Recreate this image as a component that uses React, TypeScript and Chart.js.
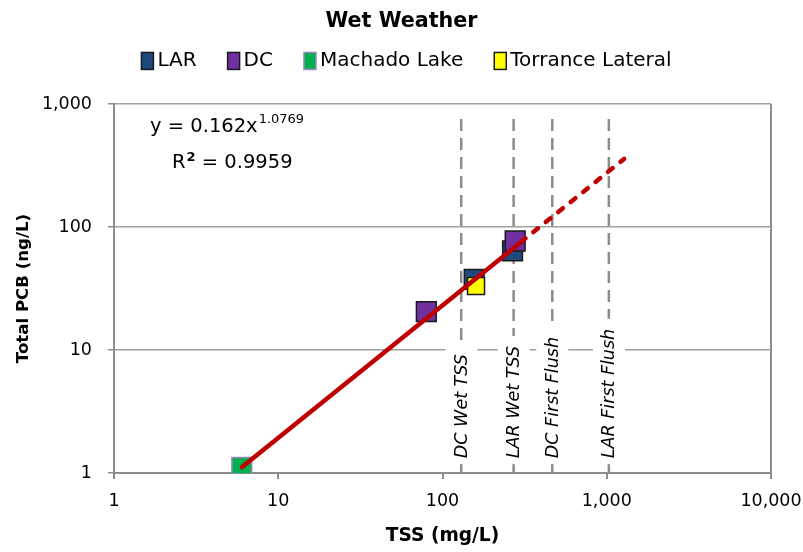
import React, { useEffect, useRef } from 'react';
import { Chart, registerables, layouts } from 'chart.js';

Chart.register(...registerables);

const FONT = '"DejaVu Sans", "Open Sans", sans-serif';

// Axis ticks (decades only)
const xTicks = [1, 10, 100, 1000, 10000];
const yTicks = [1, 10, 100, 1000];

// Wet weather samples: TSS (mg/L) vs total PCB (ng/L)
const seriesNames = ['LAR', 'DC', 'Machado Lake', 'Torrance Lateral'];
const larTss = [156, 267];
const larPcb = [37.5, 64];
const dcTss = [79.7, 277];
const dcPcb = [20.5, 77];
const machadoTss = [6.0];
const machadoPcb = [1.11];
const torranceTss = [160];
const torrancePcb = [33.2];

// Power-law fit y = a * x^b
const fitCoef = 0.162;
const fitExp = 1.0769;
const fitR2 = '0.9959';
const fitSolidRange = [6, 300];
const fitDashedRange = [300, 1275];

// Reference TSS levels
const refLabels = ['DC Wet TSS', 'LAR Wet TSS', 'DC First Flush', 'LAR First Flush'];
const refTss = [130, 271, 466, 1030];
const refPcbRange = [1, 850];
const refLabelPcb = 1.32;

const powerFit = (x: number) => fitCoef * Math.pow(x, fitExp);
const fmt = (v: number) => Number(v).toLocaleString('en-US');
const pts = (xs: number[], ys: number[]) => xs.map((x, i) => ({ x, y: ys[i] }));

const AXIS_GRAY = '#8C8C8C';
const LEGEND_HEIGHT = 69.6;
const PLOT_RIGHT_GAP = 32;

// Legend row drawn as its own layout box between the title and the plot
const sampleLegend = {
  id: 'sampleLegend',
  beforeInit(chart: any) {
    const box: any = {
      position: 'top',
      weight: 0,
      fullSize: true,
      options: {},
      top: 0, left: 0, right: 0, bottom: 0, width: 0, height: 0,
      isHorizontal: () => true,
      getPadding: () => ({ top: 0, left: 0, right: 0, bottom: 0 }),
      update(maxWidth: number) {
        this.width = maxWidth;
        this.height = LEGEND_HEIGHT;
      },
      draw() {
        const ctx = chart.ctx;
        const sets = chart.data.datasets.filter((d: any) => seriesNames.includes(d.label));
        const boxW = 12;
        const boxH = 17;
        const textGap = 4;
        const itemGap = 31;
        ctx.save();
        ctx.font = `20px ${FONT}`;
        const widths = sets.map((d: any) => ctx.measureText(d.label).width);
        const total = widths.reduce((a: number, w: number) => a + boxW + textGap + w, 0) + itemGap * (sets.length - 1);
        let x = chart.width / 2 + 5 - total / 2;
        const cy = this.top + 26.5;
        sets.forEach((d: any, i: number) => {
          ctx.fillStyle = d.backgroundColor;
          ctx.fillRect(x, cy - boxH / 2, boxW, boxH);
          ctx.strokeStyle = d.borderColor;
          ctx.lineWidth = 1.5;
          ctx.strokeRect(x, cy - boxH / 2, boxW, boxH);
          ctx.fillStyle = '#000000';
          ctx.textAlign = 'left';
          ctx.textBaseline = 'middle';
          ctx.fillText(d.label, x + boxW + textGap, cy);
          x += boxW + textGap + widths[i] + itemGap;
        });
        ctx.restore();
      },
    };
    layouts.addBox(chart, box);
  },
};

const annotations = {
  id: 'refAnnotations',
  afterDatasetsDraw(chart: any) {
    const { ctx, scales, chartArea } = chart;
    const xs = scales.x;
    const ys = scales.y;
    ctx.save();
    ctx.font = `oblique 17.5px ${FONT}`;
    const baseY = ys.getPixelForValue(refLabelPcb);
    refTss.forEach((v, i) => {
      const px = xs.getPixelForValue(v);
      const w = ctx.measureText(refLabels[i]).width;
      ctx.fillStyle = '#ffffff';
      ctx.fillRect(px - 16, baseY - w - 10, 32, w + 16);
      ctx.save();
      ctx.translate(px, baseY);
      ctx.rotate(-Math.PI / 2);
      ctx.fillStyle = '#000000';
      ctx.textAlign = 'left';
      ctx.textBaseline = 'middle';
      ctx.fillText(refLabels[i], 0, 1);
      ctx.restore();
    });

    // Fit equation and R²
    const left = chartArea.left;
    const top = chartArea.top;
    ctx.fillStyle = '#000000';
    ctx.textAlign = 'left';
    ctx.textBaseline = 'alphabetic';
    ctx.font = `19.5px ${FONT}`;
    const eq = `y = ${fitCoef}x`;
    ctx.fillText(eq, left + 36, top + 28);
    const eqW = ctx.measureText(eq).width;
    ctx.font = `13px ${FONT}`;
    ctx.fillText(String(fitExp), left + 36 + eqW + 1, top + 19);

    ctx.font = `19.5px ${FONT}`;
    ctx.fillText('R', left + 58, top + 64);
    const rW = ctx.measureText('R').width;
    ctx.font = `bold 13px ${FONT}`;
    ctx.fillText('2', left + 58 + rW + 1, top + 57);
    const twoW = ctx.measureText('2').width;
    ctx.font = `19.5px ${FONT}`;
    ctx.fillText(` = ${fitR2}`, left + 58 + rW + twoW + 1, top + 64);
    ctx.restore();
  },
};

export default function App() {
  const ref = useRef<HTMLCanvasElement | null>(null);

  useEffect(() => {
    if (!ref.current) return;
    const marker = (label: string, xs: number[], ys: number[], fill: string, border: string, order: number, radius = 14) => ({
      type: 'scatter' as const,
      label,
      data: pts(xs, ys),
      backgroundColor: fill,
      borderColor: border,
      borderWidth: 1.5,
      pointStyle: 'rect',
      pointRadius: radius,
      pointHoverRadius: radius,
      order,
    });

    const fitLine = (range: number[], dash: number[]) => ({
      type: 'line' as const,
      label: 'fit',
      data: range.map((x) => ({ x, y: powerFit(x) })),
      showLine: true,
      borderColor: '#C00000',
      borderWidth: 4.5,
      borderDash: dash,
      borderCapStyle: 'round' as const,
      pointRadius: 0,
      fill: false,
      order: 0,
    });

    const refLines = refTss.map((v, i) => ({
      type: 'line' as const,
      label: refLabels[i],
      data: refPcbRange.map((y) => ({ x: v, y })),
      showLine: true,
      borderColor: AXIS_GRAY,
      borderWidth: 2.5,
      borderDash: [12, 7],
      pointRadius: 0,
      fill: false,
      order: 10,
    }));

    const chart = new Chart(ref.current, {
      type: 'scatter',
      data: {
        datasets: [
          marker(seriesNames[0], larTss, larPcb, '#1F497D', '#1A1A1A', 4),
          marker(seriesNames[1], dcTss, dcPcb, '#7030A0', '#1A1A1A', 3),
          marker(seriesNames[2], machadoTss, machadoPcb, '#00B050', '#9B87BE', 2),
          marker(seriesNames[3], torranceTss, torrancePcb, '#FFFF00', '#1A1A1A', 1, 12),
          fitLine(fitSolidRange, []),
          fitLine(fitDashedRange, [6, 10]),
          ...refLines,
        ] as any,
      },
      plugins: [sampleLegend, annotations],
      options: {
        animation: false,
        responsive: false,
        maintainAspectRatio: false,
        layout: { padding: 0 },
        plugins: {
          tooltip: { enabled: false },
          legend: { display: false },
          title: {
            display: true,
            text: 'Wet Weather',
            color: '#000000',
            font: { family: FONT, size: 20.7, weight: 'bold' },
            padding: { top: 9.6, bottom: 0 },
          },
        },
        scales: {
          x: {
            type: 'logarithmic',
            position: 'bottom',
            min: 1,
            max: 10000,
            afterBuildTicks: (s: any) => {
              s.ticks = xTicks.map((value) => ({ value }));
            },
            afterFit: (s: any) => {
              s.height = 79;
              s.paddingLeft = 0;
              s.paddingRight = PLOT_RIGHT_GAP;
            },
            ticks: {
              callback: (v: any) => fmt(v),
              autoSkip: false,
              maxRotation: 0,
              color: '#000000',
              padding: 12,
              font: { family: FONT, size: 17.5 },
            },
            grid: {
              color: (c: any) => (c.tick && c.tick.value === 10000 ? AXIS_GRAY : 'rgba(0,0,0,0)'),
              tickColor: AXIS_GRAY,
              lineWidth: 2,
              tickLength: 6,
            },
            border: { display: true, color: AXIS_GRAY, width: 2 },
            title: {
              display: true,
              text: 'TSS (mg/L)',
              color: '#000000',
              font: { family: FONT, size: 18.6, weight: 'bold' },
              padding: { top: 5, bottom: 5 },
            },
          },
          y: {
            type: 'logarithmic',
            min: 1,
            max: 1000,
            afterBuildTicks: (s: any) => {
              s.ticks = yTicks.map((value) => ({ value }));
            },
            afterFit: (s: any) => {
              s.width = 114;
              s.paddingTop = 0;
              s.paddingBottom = 0;
            },
            ticks: {
              callback: (v: any) => fmt(v),
              autoSkip: false,
              color: '#000000',
              padding: 16,
              font: { family: FONT, size: 17.5 },
            },
            grid: {
              color: '#A0A0A0',
              tickColor: AXIS_GRAY,
              lineWidth: 1.5,
              tickLength: 6,
            },
            border: { display: true, color: AXIS_GRAY, width: 2 },
            title: {
              display: true,
              text: 'Total PCB (ng/L)',
              color: '#000000',
              font: { family: FONT, size: 16.6, weight: 'bold' },
              padding: { top: 14, bottom: 14 },
            },
          },
        },
      } as any,
    });
    return () => chart.destroy();
  }, []);

  return (
    <div style={{ position: 'absolute', left: 0, top: 0, width: 803, height: 552, background: '#ffffff' }}>
      <canvas ref={ref} width={803} height={552} style={{ display: 'block', width: 803, height: 552 }} />
    </div>
  );
}
